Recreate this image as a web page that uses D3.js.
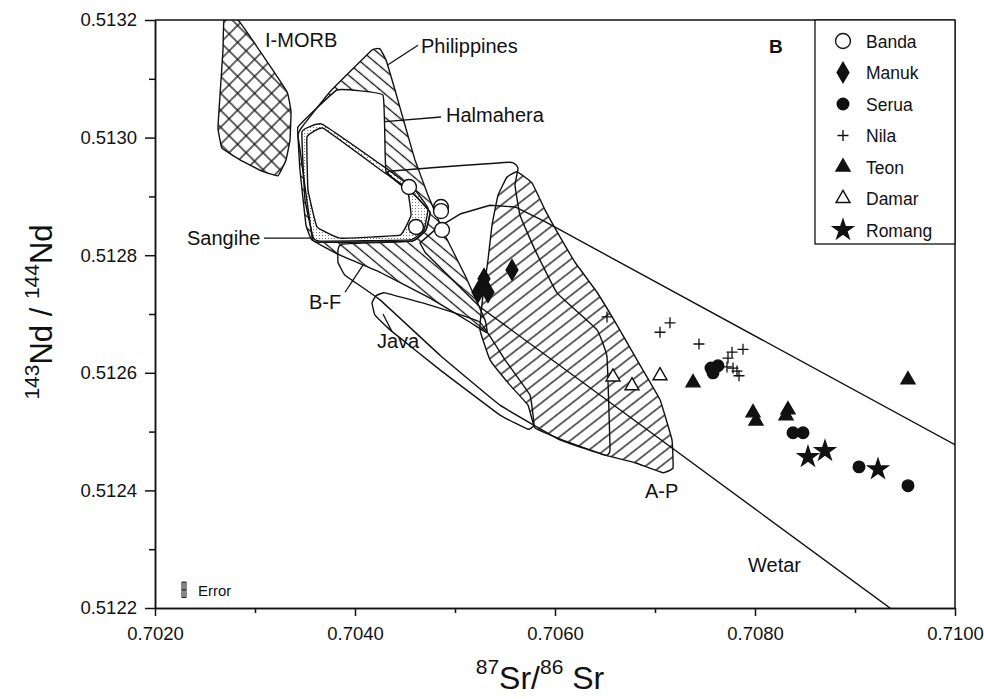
<!DOCTYPE html>
<html><head><meta charset="utf-8">
<script src="https://cdn.jsdelivr.net/npm/d3@7"></script>
<style>body{margin:0;background:#fff;} svg text{font-family:"Liberation Sans",Arial,Helvetica,sans-serif;fill:#111;}</style>
</head><body><svg id="chart" width="984" height="699"></svg>
<script>
// ---------- data ----------
const xDomain = [0.7020, 0.7100];
const yDomain = [0.5122, 0.5132];
const xMajorTicks = [0.7020, 0.7040, 0.7060, 0.7080, 0.7100];
const xMinorTicks = [0.7030, 0.7050, 0.7070, 0.7090];
const yMajorTicks = [0.5122, 0.5124, 0.5126, 0.5128, 0.5130, 0.5132];
const yMinorTicks = [0.5123, 0.5125, 0.5127, 0.5129, 0.5131];

const banda  = [[0.70454,0.512916],[0.70486,0.512882],[0.70486,0.512875],[0.70461,0.512848],[0.70487,0.512843]];
const manuk  = [[0.70529,0.512760],[0.70523,0.512737],[0.70533,0.512737],[0.70527,0.512748],[0.70557,0.512775]];
const serua  = [[0.70756,0.512608],[0.70758,0.512600],[0.70763,0.512612],[0.70838,0.512498],[0.70848,0.512498],[0.70904,0.512440],[0.70953,0.512408]];
const nila   = [[0.70652,0.512695],[0.70705,0.512669],[0.70715,0.512685],[0.70744,0.512649],[0.70777,0.512635],[0.70788,0.512640],[0.70773,0.512625],[0.70772,0.512610],[0.70778,0.512608],[0.70782,0.512603],[0.70784,0.512595]];
const teon   = [[0.70738,0.512583],[0.70798,0.512532],[0.70801,0.512518],[0.70833,0.512537],[0.70831,0.512527],[0.70953,0.512588]];
const damar  = [[0.70658,0.512593],[0.70677,0.512578],[0.70705,0.512595]];
const romang = [[0.70853,0.512457],[0.70870,0.512467],[0.70923,0.512436]];

const imorbField = [[0.70269,0.513200],[0.70283,0.513200],[0.70301,0.513157],[0.70332,0.513078],[0.70336,0.513044],[0.70335,0.512996],[0.70331,0.512962],[0.70323,0.512935],[0.70307,0.512943],[0.70285,0.512962],[0.70267,0.512982],[0.70263,0.513016],[0.70265,0.513072],[0.70268,0.513149]];
const philippinesField = [[0.70417,0.513149],[0.70425,0.513151],[0.70431,0.513132],[0.70440,0.513081],[0.70450,0.513021],[0.70460,0.512962],[0.70473,0.512902],[0.70490,0.512834],[0.70510,0.512766],[0.70530,0.512690],[0.70532,0.512668],[0.70515,0.512686],[0.70475,0.512727],[0.70425,0.512771],[0.70385,0.512800],[0.70357,0.512826],[0.70351,0.512851],[0.70345,0.512945],[0.70343,0.513004],[0.70347,0.513018],[0.70375,0.513078]];
const halmaheraField = [[0.70343,0.513018],[0.70382,0.513081],[0.70428,0.513072],[0.70431,0.512942],[0.70460,0.512902],[0.70475,0.512873],[0.70471,0.512843],[0.70457,0.512824],[0.70363,0.512822],[0.70357,0.512831],[0.70345,0.512979]];
const sangiheField = [[0.70347,0.513010],[0.70367,0.513023],[0.70431,0.512948],[0.70460,0.512911],[0.70473,0.512880],[0.70469,0.512843],[0.70455,0.512826],[0.70365,0.512824],[0.70358,0.512831],[0.70350,0.512894]];
const innerField = [[0.70352,0.513001],[0.70368,0.513016],[0.70428,0.512942],[0.70452,0.512914],[0.70456,0.512868],[0.70445,0.512834],[0.70385,0.512829],[0.70362,0.512848],[0.70353,0.512911]];
const bfField = [[0.70383,0.512788],[0.70383,0.512809],[0.70387,0.512819],[0.70457,0.512824],[0.70471,0.512843],[0.70475,0.512873],[0.70460,0.512902],[0.70433,0.512942],[0.70555,0.512958],[0.70563,0.512948],[0.70560,0.512919],[0.70565,0.512868],[0.70580,0.512809],[0.70602,0.512736],[0.70642,0.512673],[0.70652,0.512627],[0.70655,0.512469],[0.70650,0.512460],[0.70605,0.512486],[0.70545,0.512545],[0.70485,0.512630],[0.70425,0.512724],[0.70390,0.512766]];
const javaField = [[0.70417,0.512719],[0.70421,0.512731],[0.70430,0.512736],[0.70475,0.512715],[0.70525,0.512686],[0.70550,0.512622],[0.70575,0.512562],[0.70579,0.512511],[0.70573,0.512504],[0.70545,0.512528],[0.70485,0.512605],[0.70435,0.512673],[0.70420,0.512698]];
const apField = [[0.70562,0.512942],[0.70552,0.512933],[0.70543,0.512902],[0.70537,0.512851],[0.70533,0.512792],[0.70528,0.512732],[0.70525,0.512673],[0.70535,0.512622],[0.70555,0.512579],[0.70573,0.512545],[0.70580,0.512506],[0.70610,0.512484],[0.70650,0.512460],[0.70680,0.512447],[0.70708,0.512430],[0.70718,0.512438],[0.70717,0.512486],[0.70705,0.512554],[0.70685,0.512613],[0.70662,0.512681],[0.70642,0.512737],[0.70620,0.512788],[0.70602,0.512840],[0.70590,0.512877],[0.70577,0.512923]];
const wetarField = [[0.70465,0.512821],[0.70482,0.512846],[0.70505,0.512870],[0.70535,0.512885],[0.70560,0.512882],[0.70590,0.512857],[0.71045,0.512436],[0.70995,0.512125],[0.70525,0.512712],[0.70490,0.512771],[0.70470,0.512805]];

const fieldLabels = [
  {text:"I-MORB", x:0.70310, y:0.513154},
  {text:"Philippines", x:0.70466, y:0.513144},
  {text:"Halmahera", x:0.70491, y:0.513027},
  {text:"Sangihe", x:0.70232, y:0.512817},
  {text:"B-F", x:0.70354, y:0.512709},
  {text:"Java", x:0.70422, y:0.512642},
  {text:"A-P", x:0.70690, y:0.512387},
  {text:"Wetar", x:0.70793, y:0.512261}
];
const leaders = [
  [[0.70463,0.513157],[0.70433,0.513124]],
  [[0.70486,0.513035],[0.70430,0.513027]],
  [[0.70309,0.512829],[0.70358,0.512829]],
  [[0.70390,0.512737],[0.70408,0.512783]],
  [[0.70437,0.512670],[0.70428,0.512700]]
];
const errorBar = {x:0.70229, y:0.512231, dx:0.00002, dy:0.000013};
const legendNames = ["Banda","Manuk","Serua","Nila","Teon","Damar","Romang"];

// ---------- chart ----------
const svg = d3.select("#chart");
const W = 984, H = 699;
const m = {l:155, t:20, r:29, b:91};
const x = d3.scaleLinear().domain(xDomain).range([m.l, W - m.r]);
const y = d3.scaleLinear().domain(yDomain).range([H - m.b, m.t]);

const defs = svg.append("defs");
defs.append("clipPath").attr("id","plotclip").append("rect")
  .attr("x", m.l).attr("y", m.t).attr("width", W-m.l-m.r).attr("height", H-m.t-m.b);
function hatch(id, angle, gap, bg){
  const p = defs.append("pattern").attr("id", id).attr("patternUnits","userSpaceOnUse")
    .attr("width", gap).attr("height", gap).attr("patternTransform", `rotate(${angle})`);
  if (bg) p.append("rect").attr("width", gap).attr("height", gap).attr("fill","#fff");
  p.append("line").attr("x1",0).attr("y1",gap/2).attr("x2",gap).attr("y2",gap/2)
    .attr("stroke","#111").attr("stroke-width",1.3);
}
hatch("hatchPhil", 40, 9, true);
hatch("hatchAP", -38, 9.5, false);
{
  const p = defs.append("pattern").attr("id","cross").attr("patternUnits","userSpaceOnUse")
    .attr("width", 12).attr("height", 12).attr("patternTransform","rotate(45)");
  p.append("rect").attr("width",12).attr("height",12).attr("fill","#fff");
  p.append("line").attr("x1",0).attr("y1",6).attr("x2",12).attr("y2",6).attr("stroke","#111").attr("stroke-width",1.3);
  p.append("line").attr("x1",6).attr("y1",0).attr("x2",6).attr("y2",12).attr("stroke","#111").attr("stroke-width",1.3);
}
{
  const p = defs.append("pattern").attr("id","stipple").attr("patternUnits","userSpaceOnUse")
    .attr("width", 3).attr("height", 3);
  p.append("rect").attr("width",3).attr("height",3).attr("fill","#fff");
  p.append("rect").attr("x",1).attr("y",1).attr("width",1).attr("height",1).attr("fill","#777");
}

const line = d3.line().x(d => x(d[0])).y(d => y(d[1])).curve(d3.curveCardinalClosed.tension(0.75));
const lineStraight = d3.line().x(d => x(d[0])).y(d => y(d[1])).curve(d3.curveLinearClosed);
const open = d3.line().x(d => x(d[0])).y(d => y(d[1]));
const g = svg.append("g").attr("clip-path","url(#plotclip)");
const stroke = "#111", sw = 1.4;

// fills
g.append("path").attr("d", line(imorbField)).attr("fill","url(#cross)").attr("stroke",stroke).attr("stroke-width",sw).attr("stroke-linejoin","round");
g.append("path").attr("d", line(philippinesField)).attr("fill","url(#hatchPhil)");
g.append("path").attr("d", line(apField)).attr("fill","url(#hatchAP)");
g.append("path").attr("d", line(halmaheraField)).attr("fill","#fff");
g.append("path").attr("d", line(sangiheField)).attr("fill","url(#stipple)");
g.append("path").attr("d", line(innerField)).attr("fill","#fff");

// outlines
[philippinesField, halmaheraField, sangiheField, innerField, bfField, javaField, apField].forEach(f => {
  g.append("path").attr("d", line(f)).attr("fill","none").attr("stroke",stroke).attr("stroke-width",sw).attr("stroke-linejoin","round");
});
g.append("path").attr("d", lineStraight(wetarField)).attr("fill","none").attr("stroke",stroke).attr("stroke-width",sw).attr("stroke-linejoin","round");
leaders.forEach(l => g.append("path").attr("d", open(l)).attr("fill","none").attr("stroke",stroke).attr("stroke-width",1.3));

// labels
svg.append("g").selectAll("text").data(fieldLabels).join("text")
  .attr("x", d => x(d.x)).attr("y", d => y(d.y)).attr("font-size", 20).text(d => d.text);

// error symbol
{
  const ex = x(errorBar.x), ey = y(errorBar.y);
  const hw = x(errorBar.x + errorBar.dx) - ex, hh = ey - y(errorBar.y + errorBar.dy);
  const eg = svg.append("g").attr("stroke","#111").attr("stroke-width",1).attr("fill","none");
  eg.append("rect").attr("x", ex-hw).attr("y", ey-hh).attr("width", 2*hw).attr("height", 2*hh);
  eg.append("line").attr("x1", ex).attr("x2", ex).attr("y1", ey-hh).attr("y2", ey+hh);
  eg.append("line").attr("x1", ex-hw).attr("x2", ex+hw).attr("y1", ey).attr("y2", ey);
  svg.append("text").attr("x", ex+14).attr("y", ey+6).attr("font-size", 15).text("Error");
}

// symbols
const symDefs = {
  Banda:  {d:d3.symbol().type(d3.symbolCircle).size(175)(), fill:"#fff", data:banda},
  Manuk:  {d:d3.symbol().type(d3.symbolDiamond).size(120)(), fill:"#111", data:manuk},
  Serua:  {d:d3.symbol().type(d3.symbolCircle).size(105)(), fill:"#111", data:serua},
  Nila:   {d:"M-5.5,0H5.5M0,-5.5V5.5", fill:"none", data:nila},
  Teon:   {d:d3.symbol().type(d3.symbolTriangle).size(85)(), fill:"#111", data:teon},
  Damar:  {d:d3.symbol().type(d3.symbolTriangle).size(85)(), fill:"#fff", data:damar},
  Romang: {d:d3.symbol().type(d3.symbolStar).size(125)(), fill:"#111", data:romang}
};
const pg = svg.append("g");
legendNames.forEach(n => {
  const s = symDefs[n];
  pg.selectAll(null).data(s.data).join("path")
    .attr("transform", d => `translate(${x(d[0])},${y(d[1])})`)
    .attr("d", s.d).attr("fill", s.fill).attr("stroke","#111").attr("stroke-width", n==="Nila"?1.3:1.4);
});

// axes
const yAxisMajor = d3.axisLeft(y).tickValues(yMajorTicks).tickSize(10).tickSizeOuter(0).tickPadding(8).tickFormat(d3.format(".4f"));
const yAxisMinor = d3.axisLeft(y).tickValues(yMinorTicks).tickSize(6).tickSizeOuter(0).tickFormat("");
const xAxisMajor = d3.axisBottom(x).tickValues(xMajorTicks).tickSize(8).tickSizeOuter(0).tickPadding(11).tickFormat(d3.format(".4f"));
const xAxisMinor = d3.axisBottom(x).tickValues(xMinorTicks).tickSize(5).tickSizeOuter(0).tickFormat("");
[yAxisMajor, yAxisMinor].forEach(a => {
  const gg = svg.append("g").attr("transform", `translate(${m.l},0)`).call(a);
  gg.selectAll("text").attr("font-size",18.5).style("font-family","Liberation Sans, Arial").attr("fill","#111");
  gg.selectAll("line,path").attr("stroke","#111").attr("stroke-width",1.5);
});
[xAxisMajor, xAxisMinor].forEach(a => {
  const gg = svg.append("g").attr("transform", `translate(0,${H-m.b})`).call(a);
  gg.selectAll("text").attr("font-size",18.5).style("font-family","Liberation Sans, Arial").attr("fill","#111");
  gg.selectAll("line,path").attr("stroke","#111").attr("stroke-width",1.5);
});
// frame top/right
svg.append("line").attr("x1", x(xDomain[0])).attr("x2", x(xDomain[1])).attr("y1", y(yDomain[1])).attr("y2", y(yDomain[1])).attr("stroke","#111").attr("stroke-width",1.5);
svg.append("line").attr("x1", x(xDomain[1])).attr("x2", x(xDomain[1])).attr("y1", y(yDomain[1])).attr("y2", y(yDomain[0])).attr("stroke","#111").attr("stroke-width",1.5);

// legend
const lg = svg.append("g");
lg.append("rect").attr("x", 815).attr("y", y(yDomain[1])).attr("width", x(xDomain[1]) - 815).attr("height", 224)
  .attr("fill","#fff").attr("stroke","#111").attr("stroke-width",1.3);
legendNames.forEach((n,i) => {
  const s = symDefs[n], yy = 41 + i*31.5;
  lg.append("path").attr("transform", `translate(843,${yy})`).attr("d", s.d).attr("fill", s.fill).attr("stroke","#111").attr("stroke-width",1.4);
  lg.append("text").attr("x", 866).attr("y", yy+6.5).attr("font-size", 17.5).text(n);
});
svg.append("text").attr("x", 769).attr("y", 53).attr("font-size", 19).attr("font-weight","bold").text("B");

// axis titles
const yt = svg.append("text").attr("transform","translate(52,312) rotate(-90)").attr("text-anchor","middle").attr("font-size",31);
yt.append("tspan").attr("font-size",21).attr("dy",-13).text("143");
yt.append("tspan").attr("dy",13).text("Nd / ");
yt.append("tspan").attr("font-size",21).attr("dy",-13).text("144");
yt.append("tspan").attr("dy",13).text("Nd");
const xt = svg.append("text").attr("x",540).attr("y",689).attr("text-anchor","middle").attr("font-size",32);
xt.append("tspan").attr("font-size",21).attr("dy",-15).text("87");
xt.append("tspan").attr("dy",15).text("Sr/");
xt.append("tspan").attr("font-size",21).attr("dy",-15).text("86");
xt.append("tspan").attr("dy",15).text(" Sr");
</script></body></html>
